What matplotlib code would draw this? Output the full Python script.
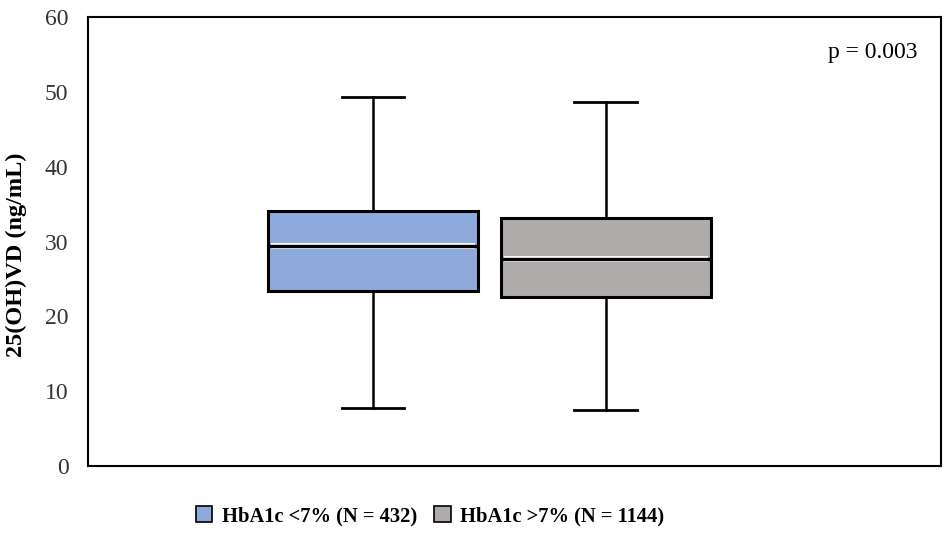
import matplotlib
matplotlib.use("Agg")
import matplotlib.pyplot as plt
from matplotlib.patches import Patch

groups = ["HbA1c <7% (N = 432)", "HbA1c >7% (N = 1144)"]
whislo = [7.8, 7.5]
q1 = [23.4, 22.6]
med = [29.4, 27.6]
q3 = [34.1, 33.2]
whishi = [49.3, 48.6]
colors = ["#8EA9DB", "#AFABAB"]
p_text = "p = 0.003"
ylabel = "25(OH)VD (ng/mL)"
yticks = [0, 10, 20, 30, 40, 50, 60]

plt.rcParams['font.family'] = ['Liberation Serif', 'DejaVu Serif']

fig = plt.figure(figsize=(9.45, 5.48), dpi=100)
ax = fig.add_axes([88/945, 1-466/548, 853/945, 449/548])

stats = []
for i in range(2):
    stats.append(dict(med=med[i], q1=q1[i], q3=q3[i], whislo=whislo[i], whishi=whishi[i], fliers=[]))

positions = [1, 2]
width = 0.9
bp = ax.bxp(stats, positions=positions, widths=width, patch_artist=True, showfliers=False,
            boxprops=dict(linewidth=2.2, edgecolor='black'),
            medianprops=dict(visible=False),
            whiskerprops=dict(color='black', linewidth=1.8),
            capprops=dict(color='black', linewidth=2.0),
            capwidths=0.27)
for patch, c in zip(bp['boxes'], colors):
    patch.set_facecolor(c)
# median with a thin white separation (Excel-style)
for pos, m in zip(positions, med):
    ax.hlines(m, pos - width / 2 + 0.012, pos + width / 2 - 0.012, colors='white',
              linewidth=4.2, zorder=6)
    ax.hlines(m, pos - width / 2, pos + width / 2, colors='black',
              linewidth=2.4, zorder=7)

ax.set_xlim(-0.223, 3.438)
ax.set_ylim(0, 60)
ax.set_yticks(yticks)
ax.set_xticks([])
ax.tick_params(axis='y', length=0, labelsize=17, pad=14, colors='#333333')
for s in ax.spines.values():
    s.set_linewidth(1.5)
    s.set_color('black')
fig.text(16/945, 1-255/548, ylabel, rotation=90, ha='center', va='center',
         fontsize=17.5, fontweight='bold')
ax.text(0.972, 0.92, p_text, transform=ax.transAxes, ha='right', va='center', fontsize=17)

handles = [Patch(facecolor=c, edgecolor='black', linewidth=1.2) for c in colors]
fig.legend(handles, groups, loc='center', bbox_to_anchor=(430/945, 1-516/548), ncol=2,
           frameon=False, prop=dict(size=14.8, weight='bold'), handlelength=0.8, handleheight=0.8,
           columnspacing=0.85, handletextpad=0.45, borderpad=0, borderaxespad=0)

fig.savefig("out.png", dpi=100)
